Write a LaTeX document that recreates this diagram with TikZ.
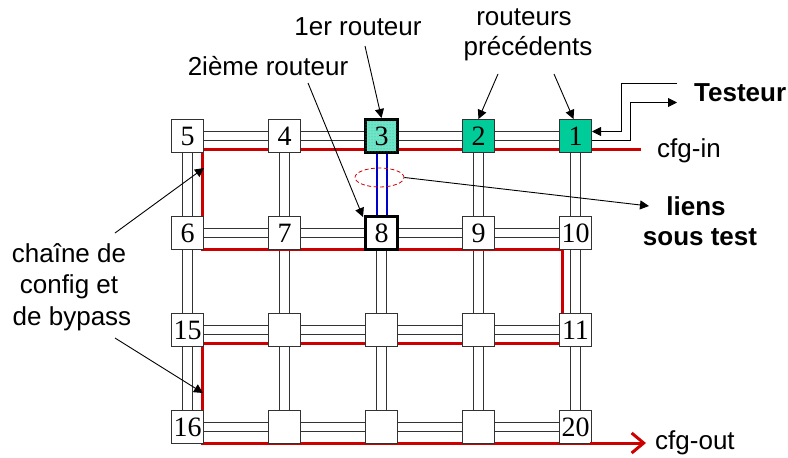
\documentclass[tikz,border=0pt]{standalone}
\usepackage{fontspec}
\setmainfont{Liberation Sans}
\newfontfamily\numfont{Liberation Serif}
\usetikzlibrary{arrows.meta,patterns,shapes.geometric}
\pgfdeclarelayer{background}
\pgfsetlayers{background,main}
\definecolor{rgreen}{RGB}{0,204,153}
\definecolor{rred}{RGB}{204,0,0}
\definecolor{rblue}{RGB}{0,0,204}
\definecolor{lgray}{RGB}{50,50,50}
\begin{document}
\begin{tikzpicture}[x=1pt,y=-1pt,
  router/.style={draw=lgray, line width=1pt, fill=white, minimum width=32pt, minimum height=33pt, inner sep=0pt, font=\numfont\fontsize{28}{28}\selectfont},
  prevrouter/.style={router, fill=rgreen},
  testrouter/.style={router, draw=black, line width=3pt},
  link/.style={draw=lgray, line width=1pt},
  testlink/.style={draw=rblue, line width=2pt},
  chain/.style={draw=rred, line width=3pt},
  pointer/.style={draw=black, line width=0.9pt, -{Triangle[length=9pt,width=9pt]}},
  lbl/.style={inner sep=0pt, font=\fontsize{26}{30}\selectfont},
  blbl/.style={lbl, font=\fontsize{26}{30}\selectfont\bfseries}
]
\useasboundingbox (0,0) rectangle (788,458);
% routers
\node[router] (n11) at (187.5,136) {5};
\node[router] (n12) at (284.5,136) {4};
\node[testrouter, fill=rgreen!55!white, postaction={pattern=dots, pattern color=rgreen}] (n13) at (381.5,136) {3};
\node[prevrouter] (n14) at (478.5,136) {2};
\node[prevrouter] (n15) at (575.5,136) {1};
\node[router] (n21) at (187.5,233) {6};
\node[router] (n22) at (284.5,233) {7};
\node[testrouter, fill=white] (n23) at (381.5,233) {8};
\node[router] (n24) at (478.5,233) {9};
\node[router] (n25) at (575.5,233) {10};
\node[router] (n31) at (187.5,330) {15};
\node[router] (n32) at (284.5,330) {};
\node[router] (n33) at (381.5,330) {};
\node[router] (n34) at (478.5,330) {};
\node[router] (n35) at (575.5,330) {11};
\node[router] (n41) at (187.5,427) {16};
\node[router] (n42) at (284.5,427) {};
\node[router] (n43) at (381.5,427) {};
\node[router] (n44) at (478.5,427) {};
\node[router] (n45) at (575.5,427) {20};
\begin{pgfonlayer}{background}
  % horizontal double links
  \foreach \r in {1,2,3,4}{
    \foreach \a/\b in {1/2,2/3,3/4,4/5}{
      \draw[link] ([yshift=4.5pt]n\r\a.east) -- ([yshift=4.5pt]n\r\b.west);
      \draw[link] ([yshift=-4.5pt]n\r\a.east) -- ([yshift=-4.5pt]n\r\b.west);
    }
  }
  % vertical double links
  \foreach \c in {1,2,3,4,5}{
    \foreach \a/\b in {1/2,2/3,3/4}{
      \ifnum\c\a=31\relax\else
      \draw[link] ([xshift=-5pt]n\a\c.south) -- ([xshift=-5pt]n\b\c.north);
      \draw[link] ([xshift=5pt]n\a\c.south) -- ([xshift=5pt]n\b\c.north);
      \fi
    }
  }
  % links under test
  \draw[testlink] ([xshift=-4.5pt]n13.south) -- ([xshift=-4.5pt]n23.north);
  \draw[testlink] ([xshift=5.5pt]n13.south) -- ([xshift=5.5pt]n23.north);
  % configuration and bypass chain
  \coordinate (cfgin) at (641,149);
  \coordinate (cfgout) at (646,443);
  \draw[chain] (cfgin) -- (202,149) -- (202,249) -- (562,249) -- (562,343) -- (202,343) -- (202,443) -- (600,443);
\end{pgfonlayer}
\draw[chain, -{Straight Barb[length=12pt,width=20pt]}] (590,443) -- (cfgout);
% texts
\node[lbl, anchor=base west] (tcfgin) at (657,157) {cfg-in};
\node[lbl, anchor=base west] (tcfgout) at (655,449) {cfg-out};
\node[blbl, anchor=base west] (testeur) at (694,101) {Testeur};
\node[lbl, anchor=base] (t1er) at (358,35) {1er routeur};
\node[lbl, anchor=base] (t2eme) at (268,75) {2ième routeur};
\node[lbl, anchor=base] (tprec1) at (524,25) {routeurs};
\node[lbl, anchor=base] (tprec2) at (528,55) {précédents};
\node[blbl, anchor=base] (tliens1) at (696,215) {liens};
\node[blbl, anchor=base] (tliens2) at (700,245) {sous test};
\node[lbl, anchor=base] (tch1) at (69,262) {chaîne de};
\node[lbl, anchor=base] (tch2) at (69,293) {config et};
\node[lbl, anchor=base] (tch3) at (72,325) {de bypass};
% ellipse
\node[draw=rred, dashed, dash pattern=on 4pt off 2.5pt, line width=0.8pt, ellipse, minimum width=49pt, minimum height=19pt, inner sep=0pt] (ell) at (379.5,177.5) {};
% tester connections
\coordinate (tin) at (677,83.5);
\coordinate (tout) at (677,102.5);
\draw[pointer] (tin) -- (621.5,83.5) -- (621.5,131.5) -- ([yshift=4.5pt]n15.east);
\draw[pointer] ([yshift=-4.5pt]n15.east) -- (630.5,140.5) -- (630.5,102.5) -- (tout);
% pointers
\coordinate (p1s) at (365,46);
\draw[pointer] (p1s) -- (n13.north);
\coordinate (p2s) at (308,83);
\draw[pointer] (p2s) -- ([xshift=-1pt,yshift=-2pt]n23.north west);
\draw[pointer] (498,74) -- (n14.north);
\draw[pointer] (554,74) -- ([xshift=-2pt]n15.north);
\coordinate (lienstip) at (649,206);
\draw[pointer] (ell.east) -- (lienstip);
\draw[pointer] (115,233) -- (204,168);
\draw[pointer] (115,338) -- (203,393);
\end{tikzpicture}
\end{document}
